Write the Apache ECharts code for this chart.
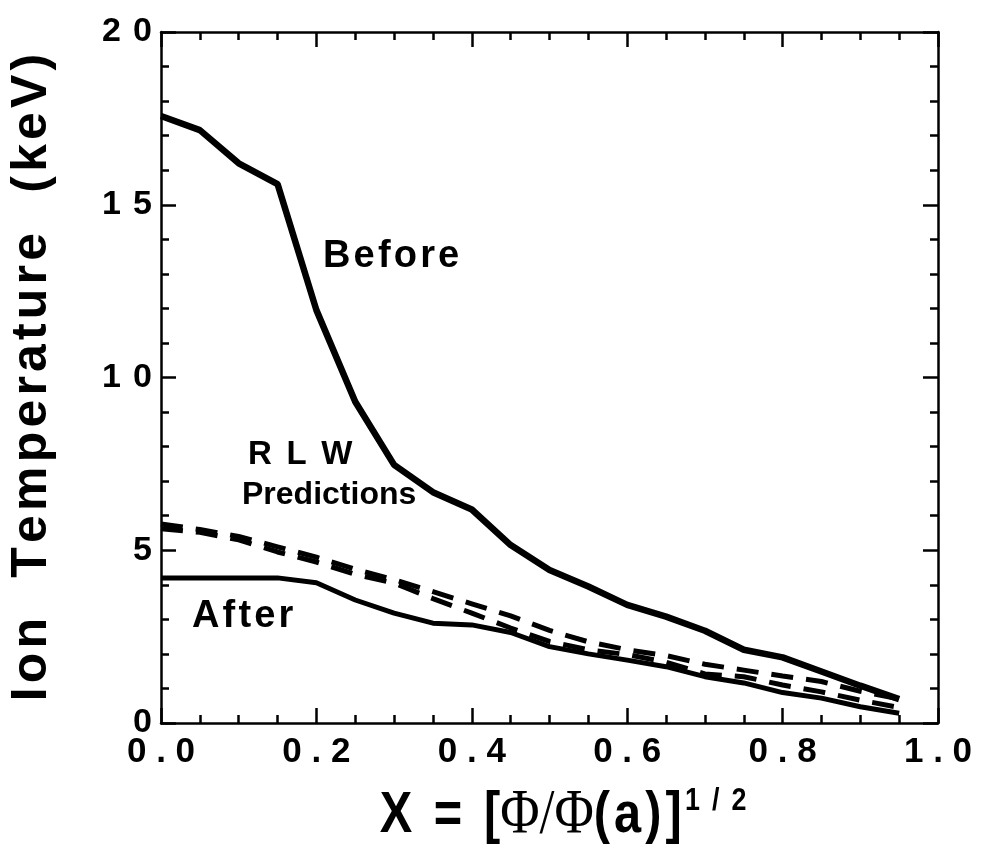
<!DOCTYPE html>
<html>
<head>
<meta charset="utf-8">
<script src="https://cdn.jsdelivr.net/npm/echarts@6/dist/echarts.min.js"></script>
<style>
html,body{margin:0;padding:0;background:#fff;}
#chart{width:982px;height:848px;}
</style>
</head>
<body>
<div id="chart"></div>
<script>
// ---- data ----
const xValues = [0, 0.05, 0.1, 0.15, 0.2, 0.25, 0.3, 0.35, 0.4, 0.45, 0.5, 0.55, 0.6, 0.65, 0.7, 0.75, 0.8, 0.85, 0.9, 0.95];
const beforeValues = [17.57, 17.16, 16.2, 15.6, 11.95, 9.3, 7.47, 6.68, 6.18, 5.15, 4.43, 3.95, 3.42, 3.08, 2.67, 2.12, 1.9, 1.49, 1.08, 0.69];
const afterValues = [4.2, 4.2, 4.2, 4.2, 4.06, 3.56, 3.18, 2.89, 2.84, 2.62, 2.21, 2.0, 1.82, 1.63, 1.34, 1.16, 0.88, 0.72, 0.47, 0.28];
const rlwBeforeValues = [5.76, 5.6, 5.4, 5.1, 4.8, 4.45, 4.15, 3.8, 3.45, 3.1, 2.68, 2.35, 2.12, 1.95, 1.7, 1.53, 1.36, 1.2, 0.92, 0.7];
const rlwAfterValues = [5.62, 5.52, 5.3, 4.95, 4.66, 4.3, 4.05, 3.6, 3.18, 2.75, 2.36, 2.12, 1.98, 1.76, 1.42, 1.34, 1.1, 0.9, 0.66, 0.45];
const xTickValues = [0, 0.2, 0.4, 0.6, 0.8, 1.0];
const xTickLabels = ['0 . 0', '0 . 2', '0 . 4', '0 . 6', '0 . 8', '1 . 0'];
const yTickValues = [0, 5, 10, 15, 20];
const yTickLabels = ['0', '5', '1\u200A 0', '1\u200A 5', '2\u200A 0'];
const yTitle = 'Ion  Temperature  (keV)';

const H = '\u200A';
const spaced = s => s.split('').join(H);
const pairs = v => xValues.map((x, i) => [x, v[i]]);
const fmt = (vals, labels) => value => {
  const i = vals.findIndex(t => Math.abs(t - value) < 1e-6);
  return i >= 0 ? labels[i] : '';
};

const BOLD = '"Liberation Sans", Arial, sans-serif';

function axis(extra, split) {
  return Object.assign({
    type: 'value',
    axisLine: { show: true, onZero: false, lineStyle: { color: '#000', width: 2.5 } },
    axisTick: { show: true, inside: true, length: 15, lineStyle: { color: '#000', width: 2.5 } },
    minorTick: { show: true, splitNumber: split, length: 8, lineStyle: { color: '#000', width: 2.5 } },
    splitLine: { show: false },
    minorSplitLine: { show: false }
  }, extra);
}

const chart = echarts.init(document.getElementById('chart'), null, { renderer: 'canvas' });
chart.setOption({
  animation: false,
  backgroundColor: '#fff',
  grid: { left: 161, right: 44, top: 32, bottom: 125, containLabel: false, outerBoundsMode: 'none' },
  xAxis: [
    axis({
      min: 0, max: 1, interval: 0.2, position: 'bottom',
      axisLabel: { show: true, color: '#000', fontSize: 35, fontWeight: 'bold', fontFamily: BOLD, margin: 12, formatter: fmt(xTickValues, xTickLabels) }
    }, 4),
    axis({ min: 0, max: 1, interval: 0.2, position: 'top', axisLabel: { show: false } }, 4)
  ],
  yAxis: [
    axis({
      min: 0, max: 20, interval: 5, position: 'left',
      axisLabel: { show: true, color: '#000', fontSize: 34, fontWeight: 'bold', fontFamily: BOLD, margin: 9, formatter: fmt(yTickValues, yTickLabels) },
      name: spaced(yTitle),
      nameLocation: 'middle', nameGap: 104, nameRotate: 90,
      nameTextStyle: { fontSize: 50, fontWeight: 'bold', fontFamily: BOLD, color: '#000' }
    }, 5),
    axis({ min: 0, max: 20, interval: 5, position: 'right', axisLabel: { show: false } }, 5)
  ],
  series: [
    { name: 'Before', type: 'line', data: pairs(beforeValues), symbol: 'none', lineStyle: { color: '#000', width: 6.5, cap: 'butt' } },
    { name: 'After', type: 'line', data: pairs(afterValues), symbol: 'none', lineStyle: { color: '#000', width: 5, cap: 'butt' } },
    { name: 'RLW Before', type: 'line', data: pairs(rlwBeforeValues), symbol: 'none', lineStyle: { color: '#000', width: 5, type: [22, 13], cap: 'butt' } },
    { name: 'RLW After', type: 'line', data: pairs(rlwAfterValues), symbol: 'none', lineStyle: { color: '#000', width: 5, type: [22, 13], cap: 'butt' } }
  ],
  graphic: [
    { type: 'text', left: 323, top: 238, style: { text: spaced('Before'), font: 'bold 38px "Liberation Sans", Arial, sans-serif', fill: '#000' } },
    { type: 'text', left: 248, top: 438, style: { text: spaced('R L W'), font: 'bold 33px "Liberation Sans", Arial, sans-serif', fill: '#000' } },
    { type: 'text', left: 242, top: 479, style: { text: 'Predictions', font: 'bold 32px "Liberation Sans", Arial, sans-serif', fill: '#000' } },
    { type: 'text', left: 192, top: 598, style: { text: spaced('After'), font: 'bold 38px "Liberation Sans", Arial, sans-serif', fill: '#000' } },
    {
      type: 'text', x: 563, y: 816, scaleX: 0.84,
      style: {
        text: '{m|' + spaced('X = [') + '}{p|Φ/Φ}{m|' + spaced('(a)]') + '}{s|' + spaced('1 / 2') + '}',
        align: 'center', verticalAlign: 'middle',
        rich: {
          m: { fontSize: 58, fontWeight: 'bold', fontFamily: BOLD, fill: '#000', lineHeight: 62 },
          p: { fontSize: 64, fontFamily: '"Liberation Serif", "Times New Roman", serif', fill: '#000', lineHeight: 62 },
          s: { fontSize: 32, fontWeight: 'bold', fontFamily: BOLD, fill: '#000', verticalAlign: 'top', lineHeight: 62, padding: [0, 0, 26, 4] }
        }
      }
    }
  ]
});
</script>
</body>
</html>
